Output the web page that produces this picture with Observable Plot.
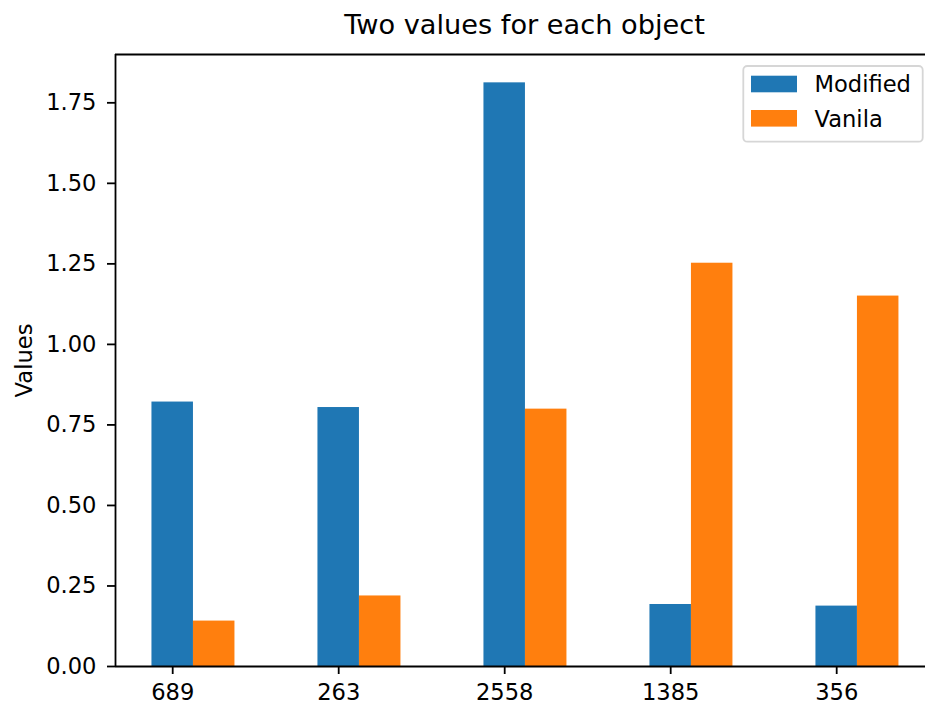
<!DOCTYPE html>
<html>
<head>
<meta charset="utf-8">
<script src="https://cdn.jsdelivr.net/npm/d3@7"></script>
<script src="https://cdn.jsdelivr.net/npm/@observablehq/plot@0.6"></script>
<style>
  html, body { margin: 0; padding: 0; background: white; }
  #chart { width: 925px; height: 704px; }
</style>
</head>
<body>
<div id="chart"></div>
<script>
// ---- data ----
const objects = ["689", "263", "2558", "1385", "356"];
const modified = [0.821, 0.804, 1.812, 0.1925, 0.1875];
const vanila = [0.141, 0.219, 0.799, 1.252, 1.150];
const seriesNames = ["Modified", "Vanila"];
const seriesColors = ["#1f77b4", "#ff7f0e"];
const yTicks = [0, 0.25, 0.5, 0.75, 1.0, 1.25, 1.5, 1.75];
const yDomain = [0, 1.9];
const xDomain = [-0.3446, 4.535];
const titleText = "Two values for each object";
const yLabel = "Values";

// ---- table ----
const seriesValues = [modified, vanila];
const rows = [];
objects.forEach((o, i) => {
  seriesValues.forEach((vals, k) => {
    rows.push({i, k, object: o, series: seriesNames[k], value: vals[i]});
  });
});
const barW = 0.25;

const tickFont = 22.6;
const svg = Plot.plot({
  width: 925,
  height: 704,
  marginLeft: 115,
  marginRight: 0,
  marginTop: 54,
  marginBottom: 38,
  style: {fontFamily: "DejaVu Sans", fontSize: tickFont + "px", color: "black", background: "white", overflow: "visible"},
  x: {type: "linear", domain: xDomain, label: null},
  y: {domain: yDomain, label: null},
  color: {domain: seriesNames, range: seriesColors},
  marks: [
    Plot.rectY(rows, {
      x1: d => d.i + d.k * barW - barW / 2,
      x2: d => d.i + d.k * barW + barW / 2,
      y: "value",
      fill: "series"
    }),
    Plot.axisY({ticks: yTicks, tickFormat: d3.format(".2f"), tickSize: 8, tickPadding: 11, strokeWidth: 1.8, label: null, fontSize: tickFont}),
    Plot.axisX({ticks: objects.map((_, i) => i), tickFormat: i => objects[i], tickSize: 8, tickPadding: 9, strokeWidth: 1.8, label: null, fontSize: tickFont}),
    Plot.ruleY([yDomain[0]], {stroke: "black", strokeWidth: 1.8}),
    Plot.ruleY([yDomain[1]], {stroke: "black", strokeWidth: 1.8}),
    Plot.ruleX([xDomain[0]], {stroke: "black", strokeWidth: 1.8}),
    Plot.text([titleText], {frameAnchor: "top", dy: -20.5, dx: 4, lineAnchor: "bottom", textAnchor: "middle", fontSize: 27.2, fill: "black"}),
    Plot.text([yLabel], {frameAnchor: "left", rotate: -90, dx: -90.5, lineAnchor: "middle", textAnchor: "middle", fontSize: tickFont, fill: "black"})
  ]
});

// ---- legend (chrome) ----
const lg = d3.select(svg).append("g")
  .attr("font-family", "DejaVu Sans")
  .attr("font-size", tickFont)
  .attr("text-anchor", "start");
lg.append("rect")
  .attr("x", 743.3).attr("y", 66).attr("width", 179.4).attr("height", 75.7)
  .attr("rx", 4).attr("fill", "white").attr("fill-opacity", 0.8)
  .attr("stroke", "#d6d6d6").attr("stroke-width", 1.8);
seriesNames.forEach((name, k) => {
  const top = 75.7 + k * 34.3;
  lg.append("rect").attr("x", 751).attr("y", top).attr("width", 46).attr("height", 16.6).attr("fill", seriesColors[k]);
  lg.append("text").attr("x", 814.5).attr("y", top + 16.6)
    .attr("text-anchor", "start").attr("fill", "black").text(name);
});

document.getElementById("chart").appendChild(svg);
</script>
</body>
</html>
